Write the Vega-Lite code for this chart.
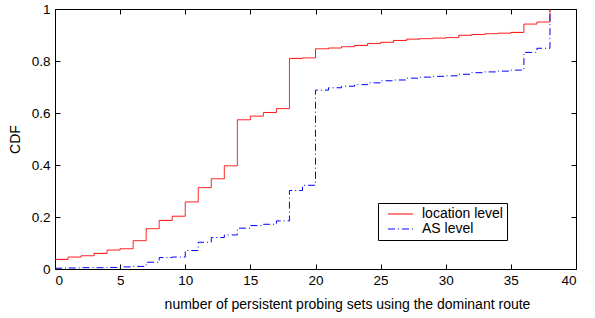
{
  "$schema": "https://vega.github.io/schema/vega-lite/v6.json",
  "width": 521,
  "height": 260,
  "autosize": {"type": "none"},
  "padding": {"left": 55, "top": 9, "right": 19, "bottom": 49},
  "background": "white",
  "config": {
    "font": "Liberation Sans",
    "view": {"stroke": "black", "strokeWidth": 1},
    "axis": {"grid": false, "domain": false, "tickColor": "black", "tickSize": -5, "labelColor": "black", "labelFont": "Liberation Sans", "labelFontSize": 13.5, "titleFont": "Liberation Sans", "titleFontSize": 14, "titleFontWeight": "normal", "titleColor": "black"}
  },
  "data": {"values": [
    {"x": 0, "y": 0.037, "s": "location level"},
    {"x": 1, "y": 0.046, "s": "location level"},
    {"x": 2, "y": 0.051, "s": "location level"},
    {"x": 3, "y": 0.060, "s": "location level"},
    {"x": 4, "y": 0.073, "s": "location level"},
    {"x": 5, "y": 0.078, "s": "location level"},
    {"x": 6, "y": 0.109, "s": "location level"},
    {"x": 7, "y": 0.155, "s": "location level"},
    {"x": 8, "y": 0.187, "s": "location level"},
    {"x": 9, "y": 0.203, "s": "location level"},
    {"x": 10, "y": 0.258, "s": "location level"},
    {"x": 11, "y": 0.313, "s": "location level"},
    {"x": 12, "y": 0.347, "s": "location level"},
    {"x": 13, "y": 0.397, "s": "location level"},
    {"x": 14, "y": 0.574, "s": "location level"},
    {"x": 15, "y": 0.588, "s": "location level"},
    {"x": 16, "y": 0.602, "s": "location level"},
    {"x": 17, "y": 0.617, "s": "location level"},
    {"x": 18, "y": 0.810, "s": "location level"},
    {"x": 19, "y": 0.812, "s": "location level"},
    {"x": 20, "y": 0.847, "s": "location level"},
    {"x": 21, "y": 0.850, "s": "location level"},
    {"x": 22, "y": 0.855, "s": "location level"},
    {"x": 23, "y": 0.860, "s": "location level"},
    {"x": 24, "y": 0.867, "s": "location level"},
    {"x": 25, "y": 0.872, "s": "location level"},
    {"x": 26, "y": 0.879, "s": "location level"},
    {"x": 27, "y": 0.884, "s": "location level"},
    {"x": 28, "y": 0.886, "s": "location level"},
    {"x": 29, "y": 0.888, "s": "location level"},
    {"x": 30, "y": 0.890, "s": "location level"},
    {"x": 31, "y": 0.899, "s": "location level"},
    {"x": 32, "y": 0.902, "s": "location level"},
    {"x": 33, "y": 0.905, "s": "location level"},
    {"x": 34, "y": 0.907, "s": "location level"},
    {"x": 35, "y": 0.910, "s": "location level"},
    {"x": 36, "y": 0.942, "s": "location level"},
    {"x": 37, "y": 0.950, "s": "location level"},
    {"x": 38, "y": 1.0, "s": "location level"},
    {"x": 0, "y": 0.003, "s": "AS level"},
    {"x": 1, "y": 0.004, "s": "AS level"},
    {"x": 2, "y": 0.005, "s": "AS level"},
    {"x": 3, "y": 0.005, "s": "AS level"},
    {"x": 4, "y": 0.006, "s": "AS level"},
    {"x": 5, "y": 0.008, "s": "AS level"},
    {"x": 6, "y": 0.010, "s": "AS level"},
    {"x": 7, "y": 0.026, "s": "AS level"},
    {"x": 8, "y": 0.044, "s": "AS level"},
    {"x": 9, "y": 0.046, "s": "AS level"},
    {"x": 10, "y": 0.071, "s": "AS level"},
    {"x": 11, "y": 0.103, "s": "AS level"},
    {"x": 12, "y": 0.121, "s": "AS level"},
    {"x": 13, "y": 0.131, "s": "AS level"},
    {"x": 14, "y": 0.157, "s": "AS level"},
    {"x": 15, "y": 0.167, "s": "AS level"},
    {"x": 16, "y": 0.172, "s": "AS level"},
    {"x": 17, "y": 0.185, "s": "AS level"},
    {"x": 18, "y": 0.302, "s": "AS level"},
    {"x": 19, "y": 0.322, "s": "AS level"},
    {"x": 20, "y": 0.688, "s": "AS level"},
    {"x": 21, "y": 0.697, "s": "AS level"},
    {"x": 22, "y": 0.703, "s": "AS level"},
    {"x": 23, "y": 0.709, "s": "AS level"},
    {"x": 24, "y": 0.716, "s": "AS level"},
    {"x": 25, "y": 0.724, "s": "AS level"},
    {"x": 26, "y": 0.727, "s": "AS level"},
    {"x": 27, "y": 0.734, "s": "AS level"},
    {"x": 28, "y": 0.738, "s": "AS level"},
    {"x": 29, "y": 0.741, "s": "AS level"},
    {"x": 30, "y": 0.743, "s": "AS level"},
    {"x": 31, "y": 0.749, "s": "AS level"},
    {"x": 32, "y": 0.755, "s": "AS level"},
    {"x": 33, "y": 0.758, "s": "AS level"},
    {"x": 34, "y": 0.761, "s": "AS level"},
    {"x": 35, "y": 0.765, "s": "AS level"},
    {"x": 36, "y": 0.833, "s": "AS level"},
    {"x": 37, "y": 0.849, "s": "AS level"},
    {"x": 38, "y": 1.0, "s": "AS level"}
  ]},
  "layer": [
    {
      "mark": {"type": "line", "interpolate": "step-after", "strokeWidth": 1, "clip": true},
      "encoding": {
        "x": {"field": "x", "type": "quantitative", "scale": {"domain": [0, 40], "nice": false},
              "axis": {"values": [0, 5, 10, 15, 20, 25, 30, 35, 40], "title": "number of persistent probing sets using the dominant route", "labelPadding": 9, "titleX": 292, "titleY": 35, "titleAlign": "center", "titleBaseline": "middle", "titleAnchor": null}},
        "y": {"field": "y", "type": "quantitative", "scale": {"domain": [0, 1], "nice": false},
              "axis": {"values": [0, 0.2, 0.4, 0.6, 0.8, 1], "format": "~g", "title": "CDF", "labelPadding": 10, "titlePadding": 9}},
        "color": {"field": "s", "type": "nominal", "sort": ["location level", "AS level"],
                  "scale": {"domain": ["location level", "AS level"], "range": ["#ff0000", "#0000ff"]},
                  "legend": {"title": null, "orient": "none", "legendX": 323, "legendY": 194, "symbolType": "M-2.5,0H2.5", "symbolSize": 100, "symbolStrokeWidth": 1.2, "symbolOffset": 11.5, "labelOffset": 14.5, "labelFontSize": 14, "labelColor": "black", "strokeColor": "black", "fillColor": "white", "padding": 4, "rowPadding": 1, "labelLimit": 200}},
        "strokeDash": {"field": "s", "type": "nominal", "sort": ["location level", "AS level"],
                       "scale": {"domain": ["location level", "AS level"], "range": [[1, 0], [7, 3, 1, 3]]},
                       "legend": {"title": null, "orient": "none", "legendX": 323, "legendY": 194}}
      }
    },
    {
      "mark": {"type": "rule", "opacity": 0},
      "encoding": {
        "x": {"field": "x", "type": "quantitative", "axis": {"orient": "top", "values": [0, 5, 10, 15, 20, 25, 30, 35, 40], "labels": false, "title": null}},
        "y": {"field": "y", "type": "quantitative", "axis": {"orient": "right", "values": [0, 0.2, 0.4, 0.6, 0.8, 1], "labels": false, "title": null}}
      }
    }
  ],
  "resolve": {"axis": {"x": "independent", "y": "independent"}}
}
